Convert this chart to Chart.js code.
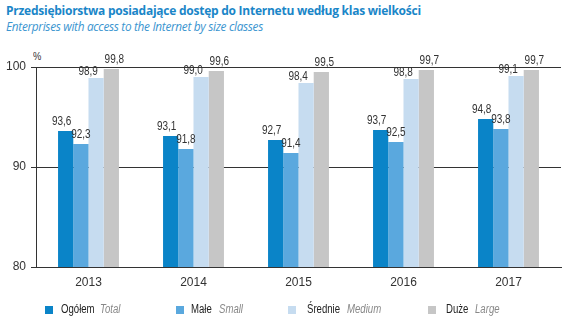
<!DOCTYPE html>
<html>
<head>
<meta charset="utf-8">
<script src="https://cdn.jsdelivr.net/npm/chart.js@4"></script>
<style>
    body { margin: 0; background: #fff; }
    #wrap { position: relative; width: 574px; height: 332px; overflow: hidden; }
    #chart { position: absolute; left: 0; top: 0; }
    .title { position: absolute; left: 6px; top: 2px; font: bold 12px "Open Sans", sans-serif; color: #1a86c8; letter-spacing: -0.25px; white-space: nowrap; }
    .subtitle { position: absolute; left: 6px; top: 18px; font: italic 11.8px "Open Sans", sans-serif; color: #3b95d0; letter-spacing: -0.3px; white-space: nowrap; }
    .unit { position: absolute; left: 33px; top: 50px; font: 11px "Liberation Sans", sans-serif; color: #333; transform: scaleX(0.85); transform-origin: left; }
    .legend { position: absolute; top: 302px; left: 0; font: 12px "Liberation Sans", sans-serif; }
    .item { position: absolute; white-space: nowrap; }
    .item .box { position: absolute; top: 4px; left: 0; width: 8px; height: 8px; }
    .item .pl, .item .en { position: absolute; transform: scaleX(0.8); transform-origin: left; }
    .item .pl { color: #222; }
    .item .en { color: #888; font-style: italic; }
</style>
</head>
<body>
<div id="wrap">
    <div class="title">Przedsiębiorstwa posiadające dostęp do Internetu według klas wielkości</div>
    <div class="subtitle">Enterprises with access to the Internet by size classes</div>
    <div class="unit">%</div>
    <canvas id="chart" width="574" height="332"></canvas>
    <div class="legend" id="legend"></div>
</div>
<script>
// Dane
const years = ['2013', '2014', '2015', '2016', '2017'];
const ogolem = [93.6, 93.1, 92.7, 93.7, 94.8];
const male = [92.3, 91.8, 91.4, 92.5, 93.8];
const srednie = [98.9, 99.0, 98.4, 98.8, 99.1];
const duze = [99.8, 99.6, 99.5, 99.7, 99.7];
const yTicks = [80, 90, 100];

const seriesPl = ['Ogółem', 'Małe', 'Średnie', 'Duże'];
const seriesEn = ['Total', 'Small', 'Medium', 'Large'];
const colors = ['#0a84c8', '#5aa8de', '#c6dcf0', '#c6c6c6'];

const family = '"Liberation Sans", sans-serif';

// Legenda w HTML (dwa style tekstu)
const legendPos = [
    { box: 45, pl: 61, en: 100 },
    { box: 176, pl: 191, en: 219 },
    { box: 288, pl: 307, en: 347 },
    { box: 428, pl: 446, en: 475 }
];
const legend = document.getElementById('legend');
seriesPl.forEach((name, i) => {
    const p = legendPos[i];
    const item = document.createElement('div');
    item.className = 'item';
    item.style.left = p.box + 'px';
    item.innerHTML = `
        <span class="box" style="background:${colors[i]}"></span>
        <span class="pl" style="left:${p.pl - p.box}px">${name}</span>
        <span class="en" style="left:${p.en - p.box}px">${seriesEn[i]}</span>
    `;
    legend.appendChild(item);
});

// Etykiety wartości nad słupkami (tekst zwężony jak w oryginale)
const labelShift = [-4, 0, -8, 3];
const labelLift = [3, 3, 0, 3];
const valueLabels = {
    id: 'valueLabels',
    afterDatasetsDraw(chart) {
        const ctx = chart.ctx;
        ctx.font = '12.5px ' + family;
        ctx.fillStyle = '#333';
        ctx.textAlign = 'center';
        ctx.textBaseline = 'bottom';
        chart.data.datasets.forEach((ds, i) => {
            chart.getDatasetMeta(i).data.forEach((bar, j) => {
                const txt = ds.data[j].toFixed(1).replace('.', ',');
                ctx.save();
                ctx.translate(bar.x + labelShift[i], bar.y - labelLift[i]);
                ctx.scale(0.8, 1);
                ctx.fillText(txt, 0, 0);
                ctx.restore();
            });
        });
    }
};

const tickFont = { size: 12, family: family };

const ctx = document.getElementById('chart').getContext('2d');
new Chart(ctx, {
    type: 'bar',
    data: {
        labels: years,
        datasets: [ogolem, male, srednie, duze].map((d, i) => ({
            label: seriesPl[i],
            data: d,
            backgroundColor: colors[i],
            borderWidth: 0,
            categoryPercentage: 0.58,
            barPercentage: 1
        }))
    },
    options: {
        responsive: false,
        animation: false,
        layout: { padding: { left: 0, right: 13, top: 67, bottom: 40 } },
        plugins: {
            legend: { display: false },
            tooltip: { enabled: false }
        },
        scales: {
            x: {
                grid: { display: false, drawTicks: false },
                border: { color: '#333', width: 1 },
                ticks: { color: '#333', font: tickFont, padding: 8 },
                afterFit(scale) { scale.height = 25; }
            },
            y: {
                min: 80,
                max: 100,
                afterBuildTicks(scale) { scale.ticks = yTicks.map(v => ({ value: v })); },
                grid: { color: '#333', lineWidth: 1, tickLength: 5 },
                border: { color: '#333', width: 1 },
                ticks: { color: '#333', font: tickFont, padding: 5 },
                afterFit(scale) { scale.width = 36; }
            }
        }
    },
    plugins: [valueLabels]
});
</script>
</body>
</html>
